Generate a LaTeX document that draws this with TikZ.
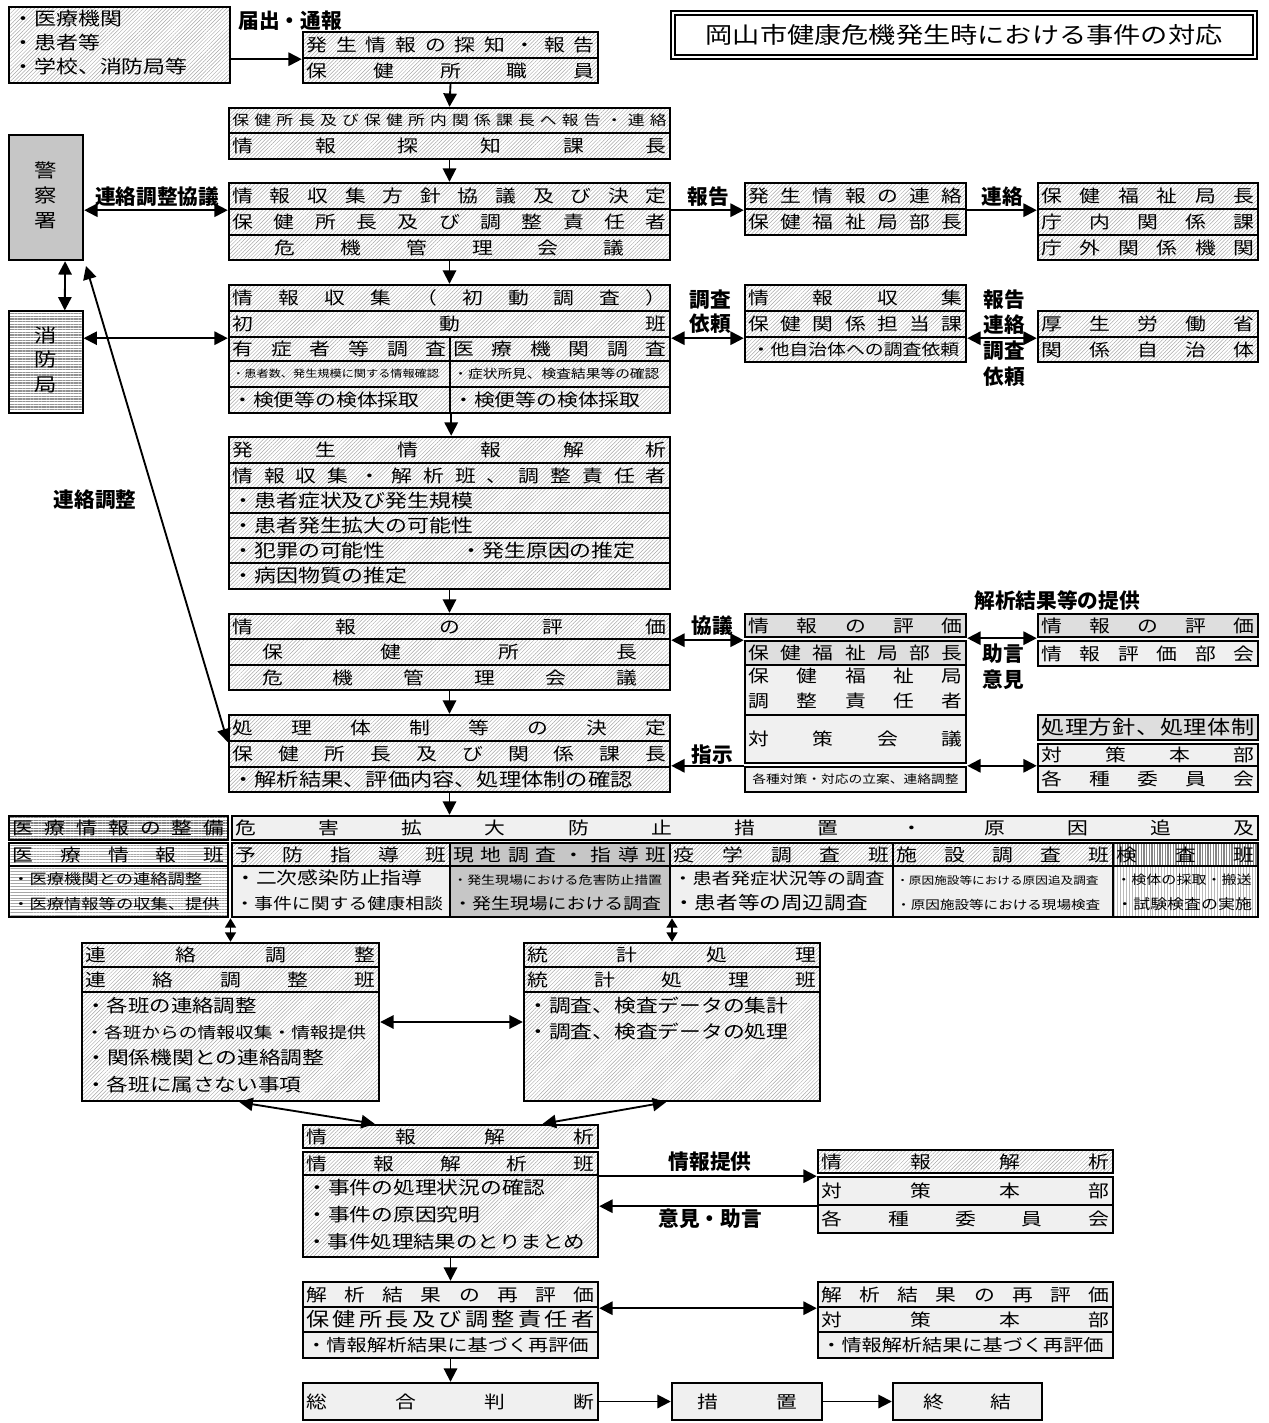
\documentclass[tikz,border=0pt]{standalone}
\usepackage{fontspec}
\setmainfont{Noto Sans CJK JP}[FakeStretch=1.2]
\newfontfamily\lblfont{Noto Sans CJK JP}
\usetikzlibrary{calc,arrows.meta,patterns.meta}

\newlength\cellw
\newlength\pxu
\setlength\pxu{0.75pt}
\newcommand\fs[1]{\fontsize{#1}{#1}\selectfont}

\ExplSyntaxOn
\NewDocumentCommand\spreadchars{m}{
  \bool_set_true:N \l_tmpa_bool
  \tl_map_inline:nn {#1}
    {
      \bool_if:NTF \l_tmpa_bool
        { \bool_set_false:N \l_tmpa_bool }
        { \hfill }
      ##1
    }
}
\ExplSyntaxOff

\newcommand\spr[1]{\makebox[\cellw][s]{\spreadchars{#1}}}
\newcommand\spx[2]{\makebox[#1\pxu][s]{\spreadchars{#2}}}
\newcommand\lft[1]{\makebox[\cellw][l]{#1}}
\newcommand\cell[7]{%
  \pgfmathsetlength\cellw{(#4-#2)*0.75-5}%
  \pgfmathsetmacro\cellcx{(#2+#4)/2}%
  \pgfmathsetmacro\cellcy{(#3+#5)/2}%
  \pgfmathsetmacro\cellwd{(#4-#2)*0.75}%
  \pgfmathsetmacro\cellht{(#5-#3)*0.75}%
  \node[cellbox,#6,minimum width=\cellwd pt,minimum height=\cellht pt] (#1) at (\cellcx,\cellcy) {#7};}
\newcommand\lines[2]{\fontsize{12}{#1}\selectfont\begin{tabular}{@{}l@{}}#2\end{tabular}}

\tikzset{
  cellbox/.style={draw, line width=1.8pt, inner sep=0pt, anchor=center, font=\fs{13}},
  hatch/.style={pattern={Lines[angle=45,distance=2pt,line width=0.35pt]}, pattern color=gray!70},
  dotl/.style={fill=gray!12},
  dotd/.style={fill=gray!26},
  solidg/.style={fill=gray!45},
  hlines/.style={pattern={Lines[angle=0,distance=2.2pt,line width=0.6pt]}, pattern color=gray!70},
  hlinesd/.style={pattern={Lines[angle=0,distance=2pt,line width=1.1pt]}, pattern color=gray!95},
  hlinesm/.style={pattern={Lines[angle=0,distance=2pt,line width=0.9pt]}, pattern color=gray!85},
  vlines/.style={pattern={Lines[angle=90,distance=2.2pt,line width=0.5pt]}, pattern color=gray!55},
  vlinesd/.style={pattern={Lines[angle=90,distance=2pt,line width=1.1pt]}, pattern color=gray!95},
  lbl/.style={font=\lblfont\bfseries\fs{15.5}, inner sep=0pt},
  arr/.style={line width=1.4pt, -{Triangle[length=10pt,width=10pt]}},
  darr/.style={line width=1.4pt, {Triangle[length=10pt,width=10pt]}-{Triangle[length=10pt,width=10pt]}},
  sdarr/.style={line width=1.4pt, {Triangle[length=7pt,width=8pt]}-{Triangle[length=7pt,width=8pt]}},
}

\begin{document}
\begin{tikzpicture}[x=0.75pt,y=-0.75pt]
\useasboundingbox (0,0) rectangle (1268,1423);

% ---------- title ----------
\node[draw, line width=1.3pt, double, double distance=2pt, inner sep=0pt, anchor=center,
      minimum width=436.5pt, minimum height=33pt, font=\fs{17}] (title) at (964,35) {岡山市健康危機発生時における事件の対応};

% ---------- top ----------
\cell{src}{9}{7}{230}{83}{hatch}{\lft{\fontsize{13.7}{18}\selectfont\begin{tabular}{@{}l@{}}・医療機関\\・患者等\\・学校、消防局等\end{tabular}}}
\node[lbl] (lbTodoke) at (290,21) {届出・通報};

\cell{b1a}{303}{32}{598}{58}{hatch}{\spr{発生情報の探知・報告}}
\cell{b1b}{303}{58}{598}{83}{hatch}{\spr{保健所職員}}

\cell{b2a}{229}{108}{670}{133}{hatch}{\fs{10.5}\spr{保健所長及び保健所内関係課長へ報告・連絡}}
\cell{b2b}{229}{133}{670}{159}{hatch}{\spr{情報探知課長}}

\cell{b3a}{229}{183}{670}{209}{hatch}{\spr{情報収集方針協議及び決定}}
\cell{b3b}{229}{209}{670}{235}{hatch}{\spr{保健所長及び調整責任者}}
\cell{b3c}{229}{235}{670}{260}{hatch}{\spx{350}{危機管理会議}}

\cell{c1a}{745}{183}{966}{209}{hatch}{\spr{発生情報の連絡}}
\cell{c1b}{745}{209}{966}{235}{hatch}{\spr{保健福祉局部長}}

\cell{d1a}{1038}{183}{1258}{209}{hatch}{\spr{保健福祉局長}}
\cell{d1b}{1038}{209}{1258}{235}{hatch}{\spr{庁内関係課}}
\cell{d1c}{1038}{235}{1258}{260}{hatch}{\spr{庁外関係機関}}

\cell{police}{9}{135}{83}{260}{solidg}{\fontsize{14}{18.5}\selectfont\begin{tabular}{@{}c@{}}警\\察\\署\end{tabular}}
\cell{shobo}{9}{311}{83}{413}{hlinesm}{\fontsize{14}{18.5}\selectfont\begin{tabular}{@{}c@{}}消\\防\\局\end{tabular}}

% ---------- initial survey ----------
\cell{b4a}{229}{285}{670}{311}{hatch}{\spr{情報収集（初動調査）}}
\cell{b4b}{229}{311}{670}{337}{hatch}{\spr{初動班}}
\cell{b4c}{229}{337}{450}{361}{hatch}{\spr{有症者等調査}}
\cell{b4d}{450}{337}{670}{361}{hatch}{\spr{医療機関調査}}
\cell{b4e}{229}{361}{450}{387}{hatch}{\fs{7.6}\lft{・患者数、発生規模に関する情報確認}}
\cell{b4f}{450}{361}{670}{387}{hatch}{\fs{9.2}\lft{・症状所見、検査結果等の確認}}
\cell{b4g}{229}{387}{450}{413}{hatch}{\lft{・検便等の検体採取}}
\cell{b4h}{450}{387}{670}{413}{hatch}{\lft{・検便等の検体採取}}

\cell{e1a}{745}{285}{966}{311}{hatch}{\spr{情報収集}}
\cell{e1b}{745}{311}{966}{337}{hatch}{\spr{保健関係担当課}}
\cell{e1c}{745}{337}{966}{362}{hatch}{\fs{11.8}・他自治体への調査依頼}

\cell{f1a}{1038}{311}{1258}{337}{hatch}{\spr{厚生労働省}}
\cell{f1b}{1038}{337}{1258}{362}{hatch}{\spr{関係自治体}}

% ---------- analysis ----------
\cell{b5a}{229}{437}{670}{463}{hatch}{\spr{発生情報解析}}
\cell{b5b}{229}{463}{670}{488}{hatch}{\spr{情報収集・解析班、調整責任者}}
\cell{b5c}{229}{488}{670}{513}{hatch}{\fs{13.7}\lft{・患者症状及び発生規模}}
\cell{b5d}{229}{513}{670}{538}{hatch}{\fs{13.7}\lft{・患者発生拡大の可能性}}
\cell{b5e}{229}{538}{670}{563}{hatch}{\fs{13.7}\lft{\makebox[228\pxu][l]{・犯罪の可能性}・発生原因の推定}}
\cell{b5f}{229}{563}{670}{589}{hatch}{\fs{13.7}\lft{・病因物質の推定}}

% ---------- evaluation ----------
\cell{b6a}{229}{614}{670}{639}{hatch}{\spr{情報の評価}}
\cell{b6b}{229}{639}{670}{665}{hatch}{\spx{375}{保健所長}}
\cell{b6c}{229}{665}{670}{690}{hatch}{\spx{375}{危機管理会議}}

\cell{b7a}{229}{715}{670}{741}{hatch}{\spr{処理体制等の決定}}
\cell{b7b}{229}{741}{670}{767}{hatch}{\spr{保健所長及び関係課長}}
\cell{b7c}{229}{767}{670}{792}{hatch}{\fs{13.9}\lft{・解析結果、評価内容、処理体制の確認}}

\cell{g1a}{745}{614}{966}{637}{dotd}{\spr{情報の評価}}
\cell{g1b}{745}{641}{966}{665}{dotd}{\spr{保健福祉局部長}}
\cell{g1c}{745}{665}{966}{715}{dotl}{\fontsize{13}{18.5}\selectfont\begin{tabular}{@{}c@{}}\spr{保健福祉局}\\\spr{調整責任者}\end{tabular}}
\cell{g1d}{745}{715}{966}{763}{dotl}{\spr{対策会議}}
\cell{g1e}{745}{767}{966}{792}{dotl}{\fs{8.6}各種対策・対応の立案、連絡調整}

\cell{h1a}{1038}{614}{1258}{637}{dotd}{\spr{情報の評価}}
\cell{h1b}{1038}{641}{1258}{666}{dotl}{\spr{情報評価部会}}
\cell{h2a}{1038}{715}{1258}{740}{dotd}{\fs{14.5}\spr{処理方針、処理体制}}
\cell{h2b}{1038}{744}{1258}{766}{dotl}{\spr{対策本部}}
\cell{h2c}{1038}{766}{1258}{792}{dotl}{\spr{各種委員会}}

% ---------- band ----------
\cell{m1}{9}{816}{228}{840}{hlinesd}{\spr{医療情報の整備}}
\cell{m2}{232}{816}{1258}{840}{dotl}{\spr{危害拡大防止措置・原因追及}}
\cell{m3}{9}{843}{228}{866}{hlines}{\spr{医療情報班}}
\cell{n1}{232}{843}{450}{866}{hatch}{\spr{予防指導班}}
\cell{n2}{450}{843}{670}{866}{solidg}{\spr{現地調査・指導班}}
\cell{n3}{670}{843}{893}{866}{hatch}{\spr{疫学調査班}}
\cell{n4}{893}{843}{1113}{866}{hatch}{\spr{施設調査班}}
\cell{n5}{1113}{843}{1258}{866}{vlinesd}{\spr{検査班}}
\cell{m4}{9}{866}{228}{917}{hlines}{\lft{\lines{18.75}{{\fs{10.8}・医療機関との連絡調整}\\{\fs{10.8}・医療情報等の収集、提供}}}}
\cell{n6}{232}{866}{450}{917}{dotl}{\lft{\lines{18.75}{{\fs{13}・二次感染防止指導}\\{\fs{11.8}・事件に関する健康相談}}}}
\cell{n7}{450}{866}{670}{917}{solidg}{\lft{\lines{18.75}{{\fs{8.7}・発生現場における危害防止措置}\\{\fs{11.8}・発生現場における調査}}}}
\cell{n8}{670}{866}{893}{917}{dotl}{\lft{\lines{18.75}{{\fs{12}・患者発症状況等の調査}\\{\fs{13.5}・患者等の周辺調査}}}}
\cell{n9}{893}{866}{1113}{917}{dotl}{\lft{\lines{18.75}{{\fs{7.9}・原因施設等における原因追及調査}\\{\fs{9.1}・原因施設等における現場検査}}}}
\cell{n10}{1113}{866}{1258}{917}{vlines}{\lft{\lines{18.75}{{\fs{9.4}・検体の採取・搬送}\\{\fs{10.6}・試験検査の実施}}}}

% ---------- coordination / statistics ----------
\cell{p1}{82}{943}{379}{967}{hatch}{\spr{連絡調整}}
\cell{p2}{82}{967}{379}{992}{hatch}{\spr{連絡調整班}}
\cell{p3}{82}{992}{379}{1101}{hatch}{\lft{\lines{19.8}{{\fs{13.4}・各班の連絡調整}\\{\fs{11.7}・各班からの情報収集・情報提供}\\{\fs{13.6}・関係機関との連絡調整}\\{\fs{13.5}・各班に属さない事項}}}}

\cell{q1}{524}{943}{820}{967}{hatch}{\spr{統計処理}}
\cell{q2}{524}{967}{820}{992}{hatch}{\spr{統計処理班}}
\cell{q3}{524}{992}{820}{1101}{hatch}{\lft{\lines{19.8}{{\fs{13.6}・調査、検査データの集計}\\{\fs{13.6}・調査、検査データの処理}\\\strut\\\strut}}}

% ---------- information analysis ----------
\cell{r1}{303}{1125}{598}{1148}{hatch}{\spr{情報解析}}
\cell{r2}{303}{1152}{598}{1175}{hatch}{\spr{情報解析班}}
\cell{r3}{303}{1175}{598}{1257}{hatch}{\lft{\lines{20}{{\fs{13.6}・事件の処理状況の確認}\\{\fs{13.6}・事件の原因究明}\\{\fs{13.4}・事件処理結果のとりまとめ}}}}

\cell{s1}{818}{1150}{1113}{1173}{hatch}{\spr{情報解析}}
\cell{s2}{818}{1177}{1113}{1205}{dotl}{\spr{対策本部}}
\cell{s3}{818}{1205}{1113}{1233}{dotl}{\spr{各種委員会}}

\cell{t1}{303}{1282}{598}{1307}{dotl}{\spr{解析結果の再評価}}
\cell{t2}{303}{1307}{598}{1332}{dotl}{\fs{14.5}\spr{保健所長及び調整責任者}}
\cell{t3}{303}{1332}{598}{1358}{dotl}{\fs{12.6}\lft{・情報解析結果に基づく再評価}}

\cell{u1}{818}{1282}{1113}{1307}{dotl}{\spr{解析結果の再評価}}
\cell{u2}{818}{1307}{1113}{1332}{dotl}{\spr{対策本部}}
\cell{u3}{818}{1332}{1113}{1358}{dotl}{\fs{12.6}\lft{・情報解析結果に基づく再評価}}

\cell{v1}{303}{1383}{598}{1420}{dotl}{\spr{総合判断}}
\cell{v2}{672}{1383}{822}{1420}{dotl}{\spx{100}{措置}}
\cell{v3}{893}{1383}{1042}{1420}{dotl}{\spx{88}{終結}}

% ---------- labels ----------
\node[lbl] (lbRCK) at (157,197) {連絡調整協議};
\node[lbl] (lbHoukoku) at (708,197) {報告};
\node[lbl] (lbRenraku) at (1002,197) {連絡};
\node[lbl] (lbChosa) at (710,300) {調査};
\node[lbl] (lbIrai) at (710,324) {依頼};
\node[lbl] (lbR1) at (1004,300) {報告};
\node[lbl] (lbR2) at (1004,325) {連絡};
\node[lbl] (lbR3) at (1004,351) {調査};
\node[lbl] (lbR4) at (1004,377) {依頼};
\node[lbl] (lbRC) at (95,500) {連絡調整};
\node[lbl] (lbKyogi) at (712,626) {協議};
\node[lbl] (lbShiji) at (712,755) {指示};
\node[lbl] (lbKaiseki) at (1057,601) {解析結果等の提供};
\node[lbl] (lbJogen) at (1003,654) {助言};
\node[lbl] (lbIken) at (1003,680) {意見};
\node[lbl] (lbJoho) at (710,1162) {情報提供};
\node[lbl] (lbIkenJ) at (710,1219) {意見・助言};

% ---------- connectors ----------
\draw[arr] (src.east |- b1a.south west) -- (b1a.south west);
\draw[arr] (b1b.south) -- (b2a.north);
\draw[arr] (b2b.south) -- (b3a.north);
\draw[arr] (b3c.south) -- (b4a.north);
\draw[arr] (b4g.south east) -- (b4g.south east |- b5a.north);
\draw[arr] (b5f.south) -- (b5f.south |- b6a.north);
\draw[arr] (b6c.south) -- (b7a.north);
\draw[arr] (b7c.south) -- (b7c.south |- m2.north);

\draw[darr] (police.east |- b3a.south west) -- (b3a.south west);
\draw[arr] (b3a.south east) -- (c1a.south west);
\draw[arr] (c1a.south east) -- (d1a.south west);

\coordinate (polS) at ($(police.south)!0.5!(police.south east)$);
\coordinate (shoN) at ($(shobo.north)!0.5!(shobo.north east)$);
\draw[darr] (polS) -- (shoN);
\draw[darr] (shobo.east |- b4b.south west) -- (b4b.south west);
\draw[darr] (b4b.south east) -- (e1b.south west);
\draw[darr] (e1b.south east) -- (f1a.south west);

\coordinate (policeTip) at (86,266);
\draw[darr] (policeTip) -- (b7a.south west);

\draw[darr] (b6a.south east) -- (b6a.south east -| g1a.west);
\draw[arr] (g1e.north west) -- (g1e.north west -| b7b.east);
\draw[darr] (g1a.south east) -- (h1a.south west);
\draw[darr] (g1e.north east) -- (g1e.north east -| h2c.west);

\draw[sdarr] (p1.north |- m4.south) -- (p1.north);
\draw[sdarr] (q1.north |- n7.south) -- (q1.north);
\coordinate (pqL) at ($(p3.north east)!0.28!(p3.south east)$);
\draw[darr] (pqL) -- (pqL -| q3.west);
\coordinate (pB) at ($(p3.south west)!0.53!(p3.south east)$);
\coordinate (rTL) at ($(r1.north west)!0.245!(r1.north east)$);
\coordinate (qB) at ($(q3.south west)!0.48!(q3.south east)$);
\coordinate (rTR) at ($(r1.north west)!0.81!(r1.north east)$);
\draw[darr] (pB) -- (rTL);
\draw[darr] (qB) -- (rTR);

\draw[arr] (r2.south east) -- (r2.south east -| s1.west);
\draw[arr] (s2.south west) -- (s2.south west -| r3.east);
\draw[arr] (r3.south) -- (t1.north);
\draw[darr] (t1.south east) -- (u1.south west);
\draw[arr] (t3.south) -- (v1.north);
\draw[arr] (v1.east) -- (v2.west);
\draw[arr] (v2.east) -- (v3.west);
\end{tikzpicture}
\end{document}
